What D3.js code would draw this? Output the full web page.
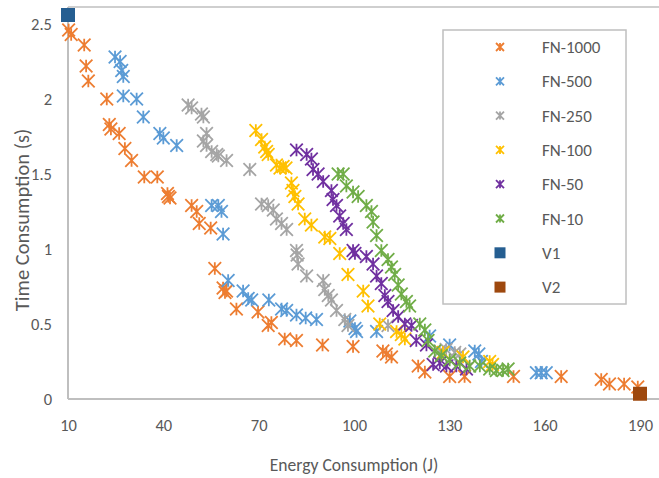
<!DOCTYPE html>
<html>
<head>
<meta charset="utf-8">
<script src="https://cdn.jsdelivr.net/npm/d3@7"></script>
<style>
  html, body { margin: 0; padding: 0; background: #fff; }
  svg { display: block; font-family: Carlito, Calibri, Lato, "Open Sans", sans-serif; }
</style>
</head>
<body>
<svg id="chart" width="659" height="478"></svg>
<script>
// Energy (J) vs time (s) for each configuration: [energy, time]
const fn1000 = [[10.2,2.46],[11,2.43],[15.1,2.36],[15.7,2.22],[16.4,2.12],[22.2,2.0],[23,1.83],[23.5,1.80],[26.1,1.77],[27.9,1.67],[30,1.59],[34,1.48],[38.1,1.48],[41.3,1.37],[41.6,1.35],[42.1,1.34],[48.9,1.29],[50.5,1.25],[51.3,1.17],[54.9,1.14],[56.2,0.87],[58.8,0.74],[59.4,0.71],[59.9,0.72],[63,0.60],[69.8,0.58],[73,0.49],[74,0.51],[78.2,0.40],[81.9,0.39],[90.1,0.36],[99.7,0.35],[109.1,0.32],[110.2,0.30],[111.8,0.28],[120.2,0.22],[122.3,0.18],[130.1,0.15],[134.8,0.15],[150.2,0.15],[165.2,0.15],[177.8,0.13],[180.4,0.10],[185,0.10],[189.3,0.08]];
const fn500 = [[24.8,2.28],[26.4,2.25],[26.9,2.19],[27.4,2.15],[27.4,2.02],[31.6,2.0],[33.7,1.88],[38.9,1.77],[40,1.74],[44.2,1.69],[55.2,1.29],[57.3,1.29],[58.3,1.25],[58.8,1.10],[60.4,0.79],[65.1,0.72],[66.7,0.67],[67.8,0.66],[73.2,0.66],[77.2,0.60],[78.8,0.59],[81.9,0.56],[84.8,0.54],[88.2,0.53],[98.7,0.52],[100.3,0.47],[100.8,0.45],[107.1,0.45],[123.8,0.42],[130.1,0.36],[138,0.32],[139.3,0.30],[140.1,0.25],[157.4,0.175],[158.9,0.175],[160.5,0.175]];
const fn250 = [[47.8,1.96],[48.9,1.94],[52,1.90],[52.6,1.88],[53.6,1.77],[52.6,1.72],[53.6,1.69],[55.2,1.65],[56.8,1.63],[57.3,1.62],[59.9,1.59],[67.2,1.53],[70.9,1.30],[73,1.29],[74.6,1.26],[75.6,1.20],[77.2,1.17],[78.8,1.13],[81.9,0.99],[82.1,0.96],[82.4,0.90],[85.1,0.82],[90.3,0.79],[90.8,0.73],[91.9,0.69],[92.9,0.66],[94.5,0.59],[97.1,0.53],[98.1,0.49],[110.7,0.49],[127,0.32],[129,0.33],[131.7,0.31],[133.3,0.30]];
const fn100 = [[69.1,1.79],[70.9,1.73],[71.9,1.68],[72.5,1.65],[73,1.63],[75.6,1.56],[76.7,1.54],[77.7,1.55],[78.6,1.54],[80.3,1.44],[80.8,1.39],[81.4,1.35],[82.4,1.30],[84.5,1.20],[86.6,1.16],[90.8,1.08],[92.4,1.07],[95.5,0.97],[98.1,0.83],[102.9,0.72],[104.4,0.62],[108.1,0.50],[113.4,0.45],[114.9,0.43],[116,0.40],[128,0.31],[134.3,0.28],[142.7,0.25],[143.6,0.23]];
const fn50 = [[81.9,1.66],[85.1,1.63],[86.6,1.60],[87.1,1.53],[88.7,1.50],[90.3,1.45],[92.9,1.39],[93.4,1.33],[94.5,1.29],[95.5,1.22],[96.6,1.17],[97.6,1.13],[99.7,0.99],[100.3,0.97],[103.9,0.95],[106,0.90],[107.1,0.82],[108.6,0.77],[109.7,0.69],[110.7,0.65],[112.3,0.59],[113.9,0.55],[116,0.50],[118.1,0.49],[119.6,0.39],[122.8,0.36],[124.9,0.23],[127,0.24],[129.1,0.22],[132.2,0.22],[135.4,0.20]];
const fn10 = [[95,1.50],[96.6,1.50],[97.6,1.42],[99.7,1.38],[101.3,1.35],[103.9,1.29],[105.5,1.25],[106,1.18],[107.1,1.09],[108.6,0.99],[110.7,0.93],[111.8,0.88],[112.8,0.83],[113.9,0.76],[114.9,0.70],[116.5,0.65],[117.5,0.62],[120.7,0.50],[122.3,0.46],[123.3,0.39],[125.4,0.32],[127.5,0.29],[130.1,0.26],[133.3,0.24],[136.4,0.22],[139.6,0.22],[142.7,0.20],[144.8,0.19],[146.9,0.19],[148.5,0.20]];
const v1 = [[10,2.56]];
const v2 = [[190,0.035]];

const seriesNames = ["FN-1000","FN-500","FN-250","FN-100","FN-50","FN-10","V1","V2"];
const seriesColors = ["#ED7D31","#5B9BD5","#A5A5A5","#FFC000","#7030A0","#70AD47","#255E91","#9E480E"];
const seriesShapes = ["star","star","star","star","star","star","square","square"];
const seriesData = [fn1000, fn500, fn250, fn100, fn50, fn10, v1, v2];

const xTicks = [10,40,70,100,130,160,190];
const yTicks = [0,0.5,1,1.5,2,2.5];

const svg = d3.select("#chart");
const textColor = "#595959";
const axisColor = "#BFBFBF";
const font = "Carlito, Calibri, Lato, sans-serif";

const plot = { left: 68, right: 640, top: 24, bottom: 399, frameTop: 7, frameRight: 659 };

const x = d3.scaleLinear().domain([10,190]).range([plot.left, plot.right]);
const y = d3.scaleLinear().domain([0,2.5]).range([plot.bottom, plot.top]);

// plot frame: top edge, left axis, bottom axis
svg.append("line").attr("x1", plot.left).attr("x2", plot.frameRight)
  .attr("y1", plot.frameTop).attr("y2", plot.frameTop)
  .attr("stroke", axisColor).attr("stroke-width", 1.5);
svg.append("line").attr("x1", plot.left).attr("x2", plot.left)
  .attr("y1", plot.frameTop).attr("y2", plot.bottom)
  .attr("stroke", axisColor).attr("stroke-width", 2);
svg.append("line").attr("x1", plot.left).attr("x2", plot.frameRight)
  .attr("y1", plot.bottom).attr("y2", plot.bottom)
  .attr("stroke", axisColor).attr("stroke-width", 2);

// axes (labels only)
const xAxis = svg.append("g").attr("transform", `translate(0,${plot.bottom})`)
  .call(d3.axisBottom(x).tickValues(xTicks).tickSize(0).tickPadding(20).tickFormat(d3.format("d")));
xAxis.select(".domain").remove();
xAxis.selectAll("text").attr("fill", textColor).style("font-size", "16.5px").style("font-family", font);

const yAxis = svg.append("g").attr("transform", `translate(${plot.left},0)`)
  .call(d3.axisLeft(y).tickValues(yTicks).tickSize(0).tickPadding(16).tickFormat(d => d));
yAxis.select(".domain").remove();
yAxis.selectAll("text").attr("fill", textColor).style("font-size", "16.5px").style("font-family", font);

// axis titles
svg.append("text").attr("x", (plot.left + plot.right) / 2).attr("y", 471)
  .attr("text-anchor", "middle").attr("fill", textColor).style("font-size", "17.6px")
  .text("Energy Consumption (J)");
svg.append("text").attr("transform", `translate(29,220) rotate(-90)`)
  .attr("text-anchor", "middle").attr("fill", textColor).style("font-size", "20.5px")
  .text("Time Consumption (s)");

// marker shapes
function starPath(h) {
  return `M${-h},${-h}L${h},${h}M${-h},${h}L${h},${-h}M0,${-h}L0,${h}`;
}
function drawMarker(g, shape, color, h) {
  if (shape === "star") {
    g.append("path").attr("d", starPath(h)).attr("fill", "none")
      .attr("stroke", color).attr("stroke-width", 1.8);
  } else {
    g.append("rect").attr("x", -h).attr("y", -h).attr("width", 2 * h).attr("height", 2 * h)
      .attr("fill", color);
  }
}

// points
seriesData.forEach((data, i) => {
  const g = svg.append("g").attr("class", "series");
  g.selectAll("g.pt").data(data).enter().append("g").attr("class", "pt")
    .attr("transform", d => `translate(${x(d[0])},${y(d[1])})`)
    .each(function() { drawMarker(d3.select(this), seriesShapes[i], seriesColors[i], seriesShapes[i] === "star" ? 6.3 : 7); });
});

// legend
const legend = svg.append("g");
legend.append("rect").attr("x", 443).attr("y", 30).attr("width", 183).attr("height", 274)
  .attr("fill", "#fff").attr("stroke", axisColor).attr("stroke-width", 1.5);
seriesNames.forEach((name, i) => {
  const ly = 47 + i * 34.3;
  const g = legend.append("g").attr("transform", `translate(500,${ly})`);
  drawMarker(g, seriesShapes[i], seriesColors[i], seriesShapes[i] === "star" ? 4 : 5.5);
  legend.append("text").attr("x", 542).attr("y", ly + 6).attr("fill", textColor)
    .style("font-size", "17px").text(name);
});
</script>
</body>
</html>
